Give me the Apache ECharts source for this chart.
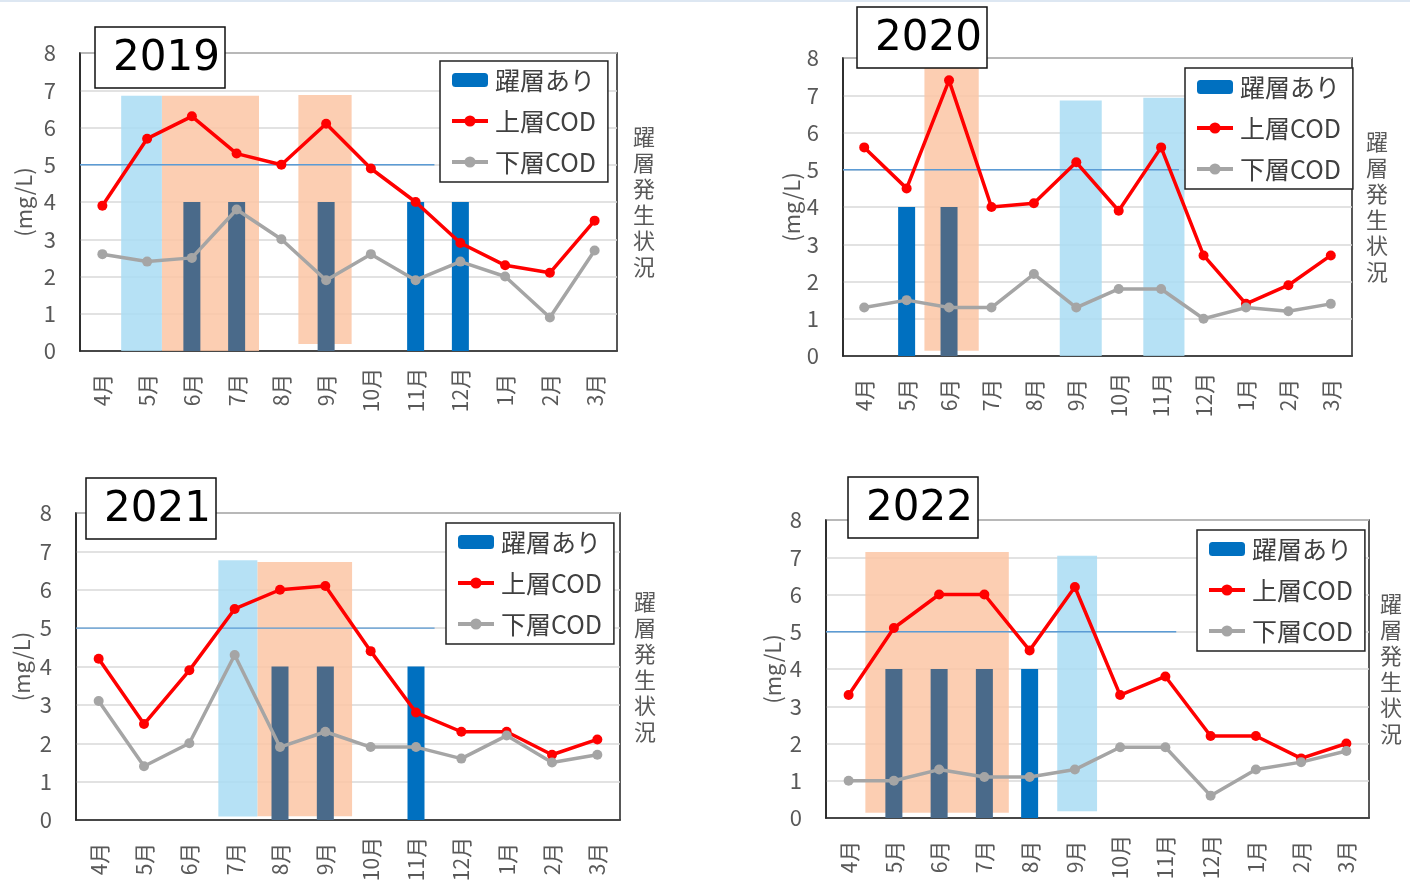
<!DOCTYPE html>
<html>
<head>
<meta charset="utf-8">
<script src="https://cdn.jsdelivr.net/npm/echarts@6/dist/echarts.min.js"></script>
<style>
  html, body { margin: 0; padding: 0; background: #fff; }
  #main { width: 1410px; height: 888px; }
  #topline { position: absolute; left: 0; top: 0; width: 1410px; height: 2px; background: #dde7f2; }
</style>
</head>
<body>
<div id="main"></div>
<div id="topline"></div>
<script>
// 月（年度順）
const months = ['4月', '5月', '6月', '7月', '8月', '9月', '10月', '11月', '12月', '1月', '2月', '3月'];
const limitValue = 5;

// 2019
const upper2019 = [3.9, 5.7, 6.3, 5.3, 5.0, 6.1, 4.9, 4.0, 2.9, 2.3, 2.1, 3.5];
const lower2019 = [2.6, 2.4, 2.5, 3.8, 3.0, 1.9, 2.6, 1.9, 2.4, 2.0, 0.9, 2.7];
const strat2019 = [null, null, 4, 4, null, 4, null, 4, 4, null, null, null];
const orange2019 = [[1.83, 4.0, 0, 6.85], [4.88, 6.07, 0.19, 6.87]];
const blue2019 = [[0.92, 1.83, 0, 6.85]];
const limitRange2019 = [0, 7.92];

// 2020
const upper2020 = [5.6, 4.5, 7.4, 4.0, 4.1, 5.2, 3.9, 5.6, 2.7, 1.4, 1.9, 2.7];
const lower2020 = [1.3, 1.5, 1.3, 1.3, 2.2, 1.3, 1.8, 1.8, 1.0, 1.3, 1.2, 1.4];
const strat2020 = [null, 4, 4, null, null, null, null, null, null, null, null, null];
const orange2020 = [[1.92, 3.2, 0.14, 7.83]];
const blue2020 = [[5.11, 6.1, 0, 6.86], [7.08, 8.05, 0, 6.93]];
const limitRange2020 = [0, 7.92];

// 2021
const upper2021 = [4.2, 2.5, 3.9, 5.5, 6.0, 6.1, 4.4, 2.8, 2.3, 2.3, 1.7, 2.1];
const lower2021 = [3.1, 1.4, 2.0, 4.3, 1.9, 2.3, 1.9, 1.9, 1.6, 2.2, 1.5, 1.7];
const strat2021 = [null, null, null, null, 4, 4, null, 4, null, null, null, null];
const orange2021 = [[4.0, 6.09, 0.1, 6.72]];
const blue2021 = [[3.14, 4.0, 0.09, 6.77]];
const limitRange2021 = [0, 7.91];

// 2022
const upper2022 = [3.3, 5.1, 6.0, 6.0, 4.5, 6.2, 3.3, 3.8, 2.2, 2.2, 1.6, 2.0];
const lower2022 = [1.0, 1.0, 1.3, 1.1, 1.1, 1.3, 1.9, 1.9, 0.6, 1.3, 1.5, 1.8];
const strat2022 = [null, 4, 4, 4, 4, null, null, null, null, null, null, null];
const orange2022 = [[0.87, 4.04, 0.14, 7.14]];
const blue2022 = [[5.11, 5.99, 0.18, 7.04]];
const limitRange2022 = [0, 7.74];

const panels = [
  { year: '2019', upper: upper2019, lower: lower2019, strat: strat2019, orange: orange2019, blue: blue2019, limit: limitRange2019 },
  { year: '2020', upper: upper2020, lower: lower2020, strat: strat2020, orange: orange2020, blue: blue2020, limit: limitRange2020 },
  { year: '2021', upper: upper2021, lower: lower2021, strat: strat2021, orange: orange2021, blue: blue2021, limit: limitRange2021 },
  { year: '2022', upper: upper2022, lower: lower2022, strat: strat2022, orange: orange2022, blue: blue2022, limit: limitRange2022 }
];

// 配置（px）
const layouts = [
  { grid: [80, 53, 537, 298], title: [95, 27], legend: [440, 61], nameGap: 45, rightGap: 16 },
  { grid: [843, 58, 509, 298], title: [857, 7], legend: [1185, 68], nameGap: 39, rightGap: 14 },
  { grid: [76, 513, 544, 307], title: [86, 478], legend: [446, 523], nameGap: 43, rightGap: 14 },
  { grid: [826, 520, 543, 298], title: [848, 477], legend: [1197, 530], nameGap: 42, rightGap: 11 }
];

const FONT = '"Noto Sans CJK JP", "Noto Sans", sans-serif';
const TXT = '#595959';

function overlayItem(color) {
  return function (params, api) {
    const a = api.coord([api.value(0), api.value(3)]);
    const b = api.coord([api.value(1), api.value(2)]);
    return {
      type: 'rect',
      shape: { x: a[0], y: a[1], width: b[0] - a[0], height: b[1] - a[1] },
      style: { fill: color, opacity: 0.85 }
    };
  };
}

function inRanges(ranges, i) {
  const c = i + 0.5;
  return ranges.some(r => c > r[0] && c < r[1]);
}

const option = {
  animation: false,
  backgroundColor: '#fff',
  textStyle: { fontFamily: FONT },
  title: [], legend: [], grid: [], xAxis: [], yAxis: [], series: []
};

panels.forEach((p, k) => {
  const L = layouts[k];
  option.grid.push({
    left: L.grid[0], top: L.grid[1], width: L.grid[2], height: L.grid[3],
    show: true, borderColor: '#222', borderWidth: 1.5, backgroundColor: 'transparent'
  });
  option.title.push({
    text: p.year, left: L.title[0], top: L.title[1],
    padding: [7, 5, 4, 18], borderColor: '#111', borderWidth: 1.5, backgroundColor: '#fff',
    textStyle: { fontFamily: '"DejaVu Sans", sans-serif', fontSize: 42, fontWeight: 'normal', color: '#000', lineHeight: 50 }
  });
  option.legend.push({
    orient: 'vertical', left: L.legend[0], top: L.legend[1],
    data: ['躍層あり', '上層COD', '下層COD'],
    selectedMode: false,
    padding: [5, 12, 6, 10], itemGap: 13, itemWidth: 36, itemHeight: 14,
    borderColor: '#222', borderWidth: 1.5, backgroundColor: '#fff',
    lineStyle: { width: 4 },
    textStyle: { fontFamily: FONT, fontSize: 25, lineHeight: 28, color: '#404040', padding: [0, 0, 0, 2] }
  });
  option.xAxis.push({
    type: 'category', gridIndex: k, data: months,
    axisTick: { show: false },
    axisLine: { lineStyle: { color: '#222', width: 1.5 } },
    axisLabel: { rotate: 90, align: 'center', verticalAlign: 'middle', margin: 39, fontSize: 21, color: TXT, fontFamily: FONT }
  });
  // overlay用の数値軸（カテゴリ幅=1）
  option.xAxis.push({ type: 'value', gridIndex: k, min: 0, max: 12, show: false });
  option.yAxis.push({
    type: 'value', gridIndex: k, min: 0, max: 8, interval: 1,
    name: '(mg/L)', nameLocation: 'middle', nameGap: L.nameGap,
    nameTextStyle: { fontSize: 22, color: TXT, fontFamily: FONT },
    axisLabel: { fontSize: 22, color: TXT, margin: 24, fontFamily: FONT },
    axisTick: { show: false },
    axisLine: { show: true, lineStyle: { color: '#222', width: 1.5 } },
    splitLine: { lineStyle: { color: '#d9d9d9', width: 1.5 } }
  });
  option.yAxis.push({
    type: 'value', gridIndex: k, position: 'right', min: 0, max: 8, interval: 1,
    name: '躍\n層\n発\n生\n状\n況', nameLocation: 'middle', nameRotate: 0, nameGap: L.rightGap,
    nameTextStyle: { fontSize: 22, lineHeight: 26, color: TXT, fontFamily: FONT },
    axisLabel: { show: false }, axisTick: { show: false }, axisLine: { show: false }, splitLine: { show: false }
  });

  const xc = k * 2, xv = k * 2 + 1, yl = k * 2;
  option.series.push({
    type: 'custom', xAxisIndex: xv, yAxisIndex: yl, z: 1, silent: true,
    encode: { x: [0, 1], y: [2, 3] },
    renderItem: overlayItem('#fbc6a4'), data: p.orange
  });
  option.series.push({
    type: 'custom', xAxisIndex: xv, yAxisIndex: yl, z: 1, silent: true,
    encode: { x: [0, 1], y: [2, 3] },
    renderItem: overlayItem('#a9dcf3'), data: p.blue
  });
  option.series.push({
    name: '躍層あり', type: 'bar', xAxisIndex: xc, yAxisIndex: yl, barWidth: 17, z: 2,
    itemStyle: { color: '#0070c0' },
    data: p.strat.map((v, i) => v == null ? null : {
      value: v, itemStyle: { color: inRanges(p.orange, i) ? '#4a6a8a' : '#0070c0' }
    })
  });
  option.series.push({
    type: 'line', xAxisIndex: xv, yAxisIndex: yl, z: 3, silent: true, symbol: 'none',
    data: [[p.limit[0], limitValue], [p.limit[1], limitValue]],
    lineStyle: { color: '#5b9bd5', width: 1.3 }
  });
  option.series.push({
    name: '上層COD', type: 'line', xAxisIndex: xc, yAxisIndex: yl, z: 4,
    data: p.upper, symbol: 'circle', symbolSize: 10,
    itemStyle: { color: '#ff0000' }, lineStyle: { color: '#ff0000', width: 3.5 }
  });
  option.series.push({
    name: '下層COD', type: 'line', xAxisIndex: xc, yAxisIndex: yl, z: 4,
    data: p.lower, symbol: 'circle', symbolSize: 10,
    itemStyle: { color: '#a5a5a5' }, lineStyle: { color: '#a5a5a5', width: 3.5 }
  });
});

const chart = echarts.init(document.getElementById('main'));
chart.setOption(option);
window.addEventListener('resize', () => chart.resize());
</script>
</body>
</html>
